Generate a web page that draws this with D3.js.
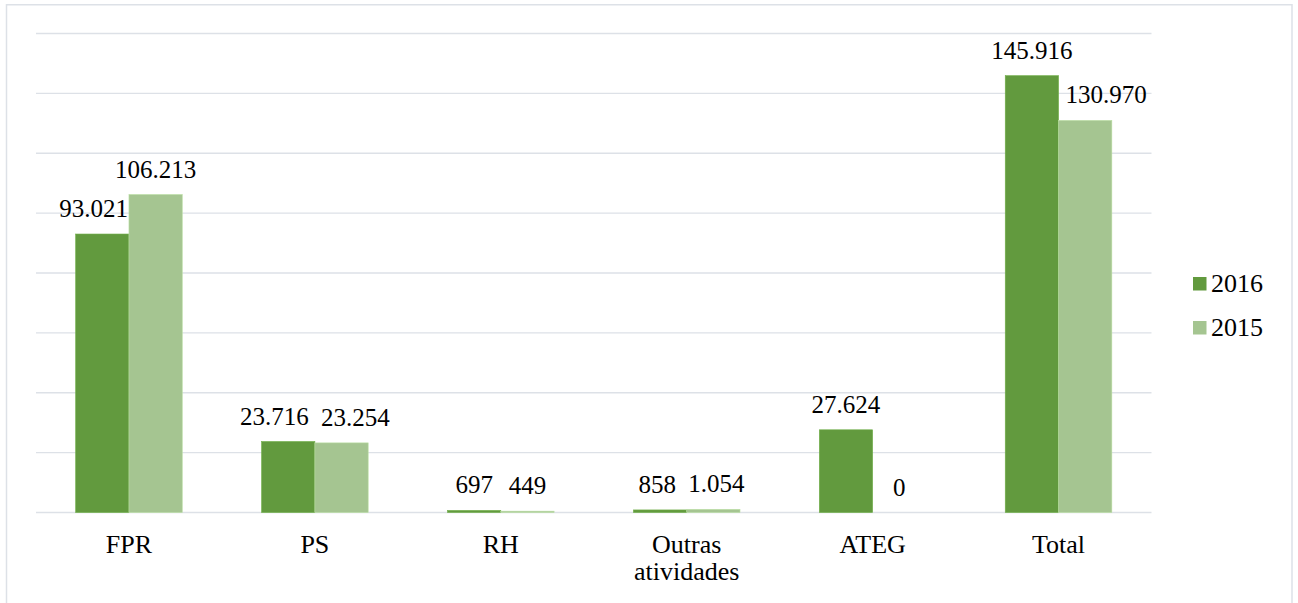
<!DOCTYPE html>
<html><head><meta charset="utf-8"><script src="https://cdn.jsdelivr.net/npm/d3@7"></script>
<style>
  .serif { font-family: "Times New Roman", Tinos, "Liberation Serif", serif; }
</style>
</head>
<body style="margin:0">
<svg id="s" width="1298" height="603"></svg>
<script>
// ---- data ----
const categories = ["FPR", "PS", "RH", "Outras atividades", "ATEG", "Total"];
const categoryLines = [["FPR"], ["PS"], ["RH"], ["Outras", "atividades"], ["ATEG"], ["Total"]];
const seriesNames = ["2016", "2015"];
const values2016 = [93021, 23716, 697, 858, 27624, 145916];
const values2015 = [106213, 23254, 449, 1054, 0, 130970];
const yTicks = [0, 20000, 40000, 60000, 80000, 100000, 120000, 140000, 160000];
const seriesColors = ["#629a3e", "#a5c591"];

const FAM = '"Times New Roman", Tinos, "Liberation Serif", serif';

const svg = d3.select("#s");
const plot = { left: 36, right: 1151.5, top: 33.5, bottom: 512.5 };

svg.append("rect")
  .attr("x", 6.5).attr("y", 4.75)
  .attr("width", 1292 - 6.5).attr("height", 620)
  .attr("fill", "#fff").attr("stroke", "#dde1e7").attr("stroke-width", 1.5);

const x = d3.scaleBand().domain(categories).range([plot.left, plot.right]).paddingInner(0).paddingOuter(0);
const bw = x.bandwidth();
const xs = d3.scaleBand().domain(seriesNames).range([bw * 0.2133, bw * 0.7867]).padding(0);
const y = d3.scaleLinear().domain([0, 160000]).range([plot.bottom, plot.top]);

svg.append("g").selectAll("line").data(yTicks).join("line")
  .attr("x1", plot.left).attr("x2", plot.right)
  .attr("y1", d => y(d)).attr("y2", d => y(d))
  .attr("stroke", "#dde1e7").attr("stroke-width", 1.4);

const rows = categories.map((c, i) => ({ cat: c, vals: [values2016[i], values2015[i]] }));

rows.forEach((r) => {
  seriesNames.forEach((s, j) => {
    const v = r.vals[j];
    svg.append("rect")
      .attr("x", x(r.cat) + xs(s))
      .attr("y", y(v))
      .attr("width", xs.bandwidth())
      .attr("height", Math.max(0, y(0) - y(v)))
      .attr("fill", seriesColors[j])
      .attr("stroke", v > 0 ? d3.color(seriesColors[j]).brighter(0.35) : "none")
      .attr("stroke-width", 0.6);
  });
});

function addText(txt, size) {
  return svg.append("text")
    .attr("class", "serif")
    .attr("font-family", FAM)
    .style("font", size + "px " + FAM)
    .text(txt);
}

// category labels
categories.forEach((c, i) => {
  categoryLines[i].forEach((ln, k) => {
    addText(ln, 26)
      .attr("text-anchor", "middle")
      .attr("x", x(c) + bw / 2)
      .attr("y", 553 + k * 27);
  });
});

// legend
seriesNames.forEach((s, j) => {
  const yy = 277 + j * 44;
  svg.append("rect").attr("x", 1193).attr("y", yy).attr("width", 13.5).attr("height", 13.5).attr("fill", seriesColors[j]);
  addText(s, 26).attr("x", 1211).attr("y", yy + 14.5);
});

// value labels
const fmt = v => d3.format(",")(v).replace(/,/g, ".");
rows.forEach((r) => {
  const mid = x(r.cat) + bw / 2;
  const labs = seriesNames.map((s, j) => {
    const v = r.vals[j];
    const cx = x(r.cat) + xs(s) + xs.bandwidth() / 2;
    const t = addText(fmt(v), 25)
      .attr("text-anchor", "middle")
      .attr("x", cx).attr("y", y(v) - 17);
    return { t, cx, w: t.node().getBBox().width, base: y(v) - 17, top: y(v) - 34, v };
  });
  const [a, b] = labs;
  if (a.cx + a.w / 2 > mid && y(b.v) < a.base) a.cx = mid - 1 - a.w / 2;
  if (b.cx - b.w / 2 < mid && y(a.v) < b.base) b.cx = mid + 7 + b.w / 2;
  const vOverlap = !(a.base < b.top || b.base < a.top);
  const gap = (b.cx - b.w / 2) - (a.cx + a.w / 2);
  const minGap = 12;
  if (vOverlap && gap < minGap) {
    const push = (minGap - gap) / 2;
    a.cx -= push; b.cx += push;
  }
  a.t.attr("x", a.cx); b.t.attr("x", b.cx);
});
</script></body></html>
